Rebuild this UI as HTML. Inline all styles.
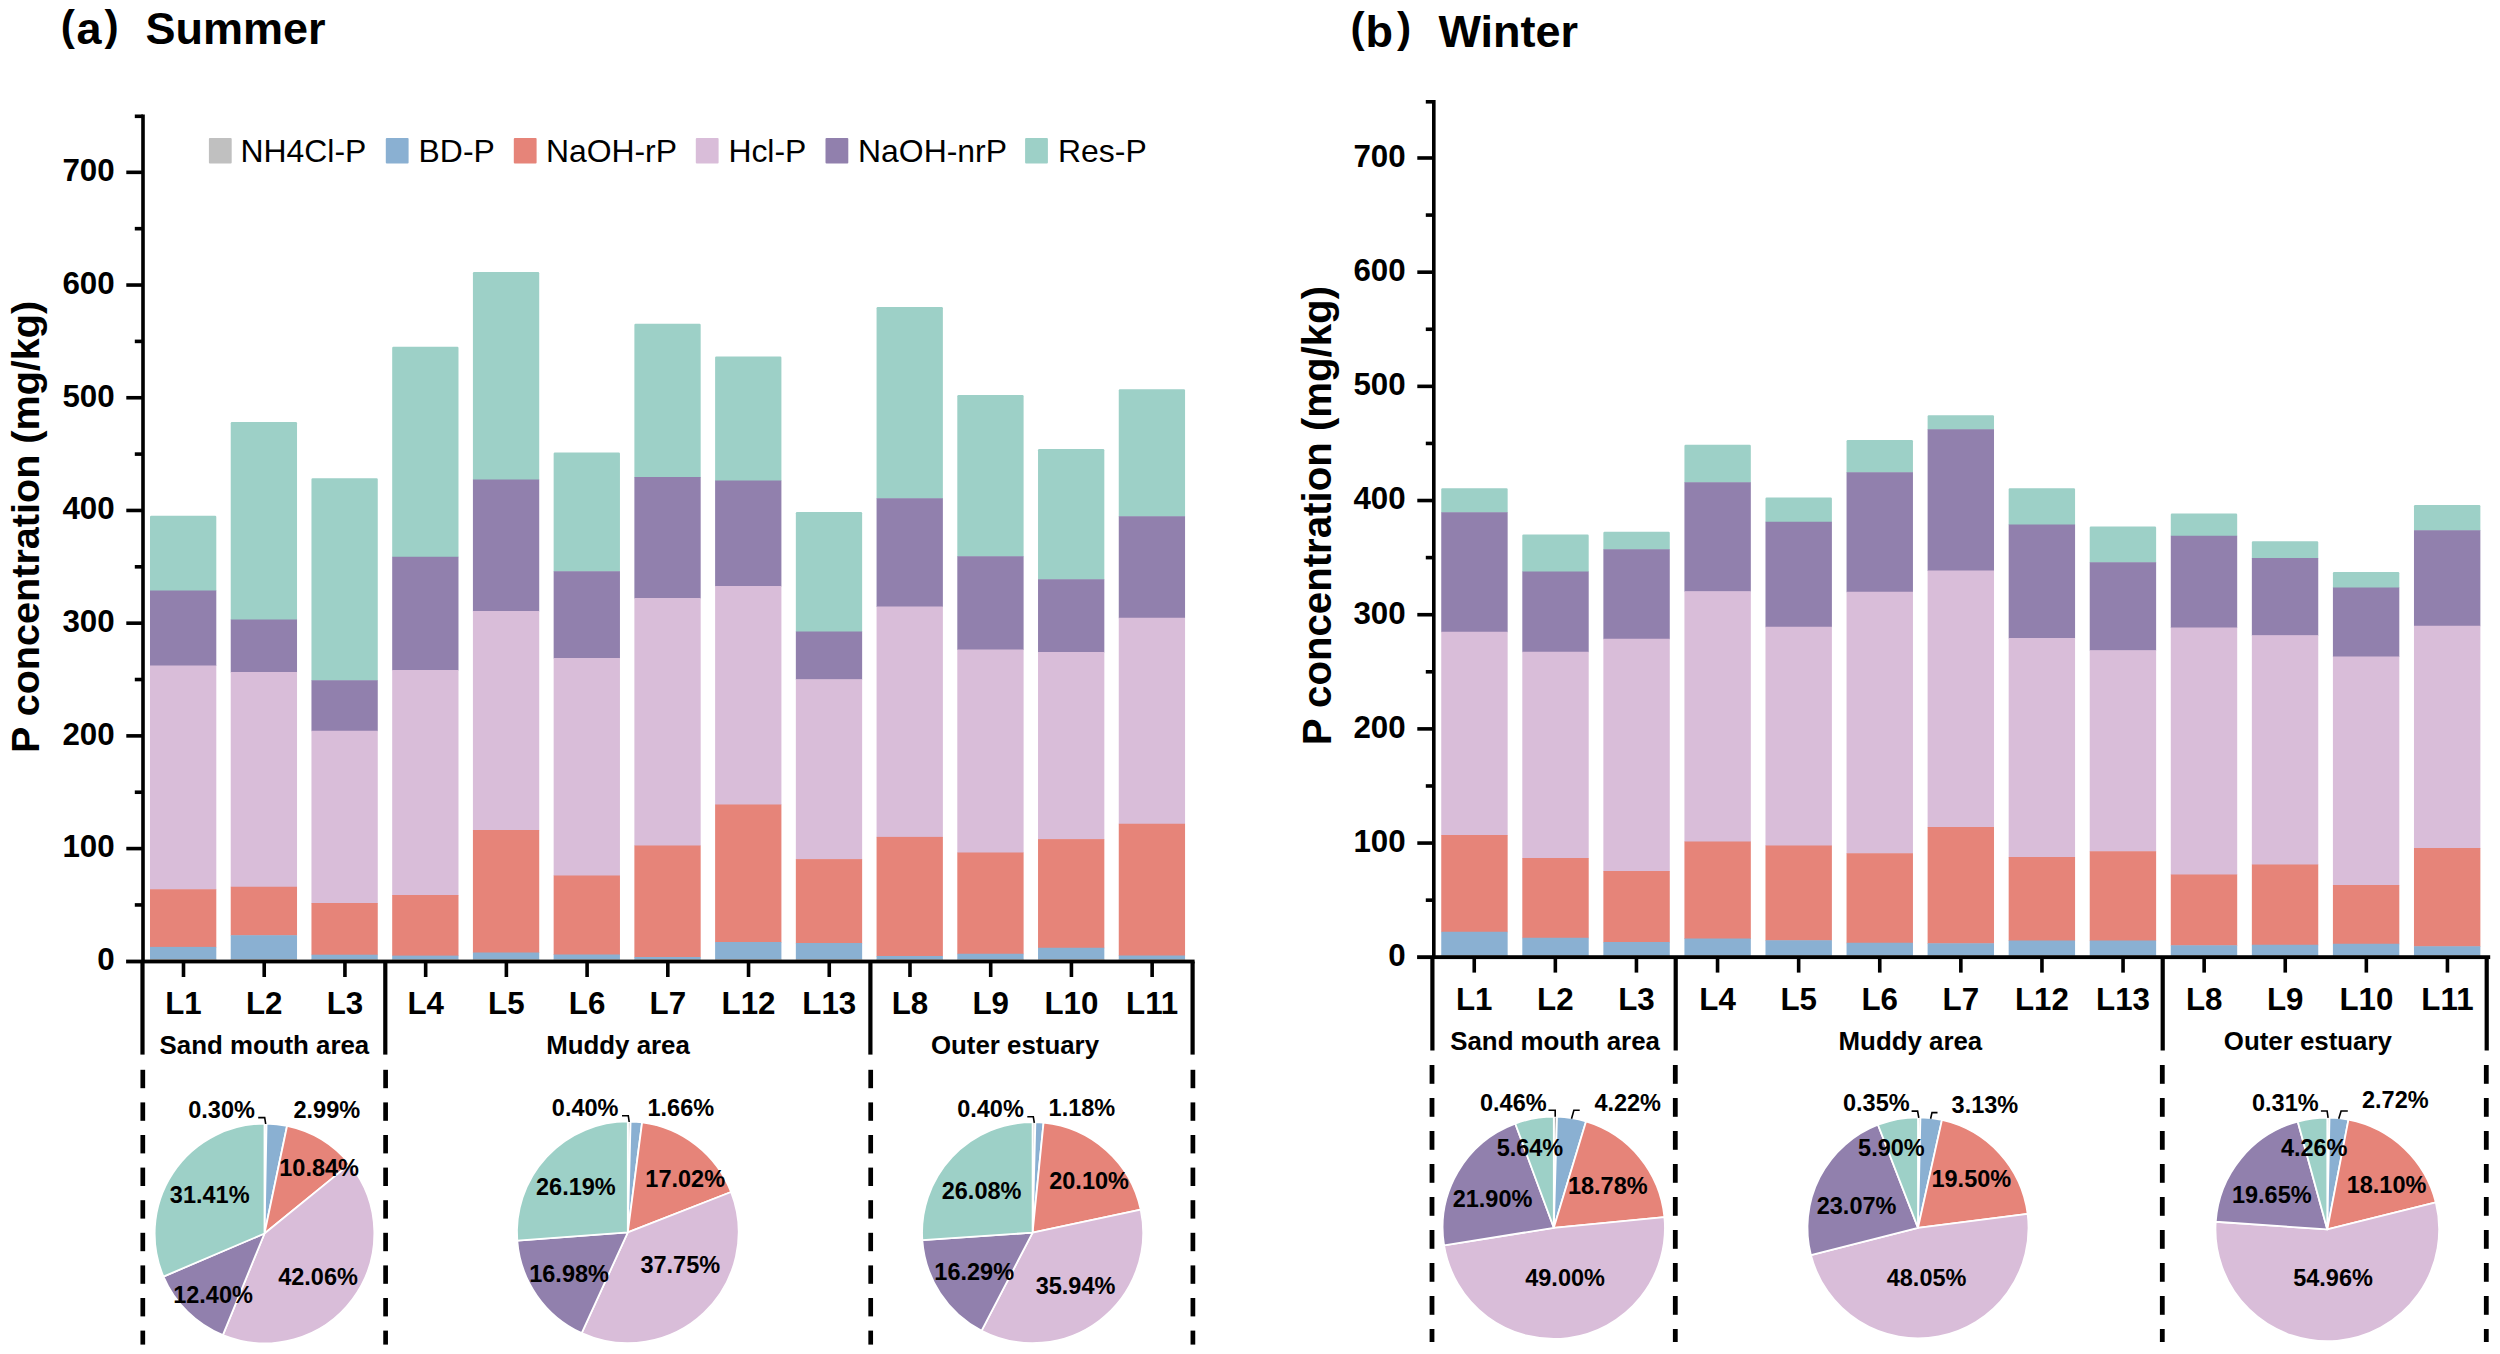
<!DOCTYPE html>
<html lang="en"><head><meta charset="utf-8"><title>P fractions in sediments: Summer and Winter</title>
<style>html,body{margin:0;padding:0;background:#fff}body{width:2500px;height:1354px;overflow:hidden}svg{display:block}text{font-family:'Liberation Sans', sans-serif;fill:#000}</style>
</head><body>
<svg width="2500" height="1354" viewBox="0 0 2500 1354">
<rect width="2500" height="1354" fill="#fff"/>
<g font-weight="700" font-size="45">
<text><tspan x="60.8" y="40" font-size="42.5">(</tspan><tspan x="76.6" y="44.4">a</tspan><tspan x="104.6" y="40" font-size="42.5">) </tspan><tspan x="145.4" y="44.4">Summer</tspan></text>
<text><tspan x="1350.4" y="42" font-size="42.5">(</tspan><tspan x="1365.6" y="47.4">b</tspan><tspan x="1396.9" y="42" font-size="42.5">) </tspan><tspan x="1438.4" y="47.4">Winter</tspan></text>
</g>
<g>
<path d="M150 591V516.95Q150 515.75 151.2 515.75H215.1Q216.3 515.75 216.3 516.95V591Z" fill="#9dd0c7"/>
<rect x="150" y="590.5" width="66.3" height="75.5" fill="#9180ad"/>
<rect x="150" y="665.5" width="66.3" height="224.25" fill="#d9bdd9"/>
<rect x="150" y="889.25" width="66.3" height="58.15" fill="#e68479"/>
<rect x="150" y="946.9" width="66.3" height="12.6" fill="#8ab0d2"/>
<rect x="150" y="959" width="66.3" height="2.1" fill="#c0c0c0"/>
<path d="M230.73 620V423.2Q230.73 422 231.93 422H295.83Q297.03 422 297.03 423.2V620Z" fill="#9dd0c7"/>
<rect x="230.73" y="619.5" width="66.3" height="53" fill="#9180ad"/>
<rect x="230.73" y="672" width="66.3" height="215.25" fill="#d9bdd9"/>
<rect x="230.73" y="886.75" width="66.3" height="48.95" fill="#e68479"/>
<rect x="230.73" y="935.2" width="66.3" height="24.3" fill="#8ab0d2"/>
<rect x="230.73" y="959" width="66.3" height="2.1" fill="#c0c0c0"/>
<path d="M311.46 680.75V479.45Q311.46 478.25 312.66 478.25H376.56Q377.76 478.25 377.76 479.45V680.75Z" fill="#9dd0c7"/>
<rect x="311.46" y="680.25" width="66.3" height="51" fill="#9180ad"/>
<rect x="311.46" y="730.75" width="66.3" height="172.75" fill="#d9bdd9"/>
<rect x="311.46" y="903" width="66.3" height="52.2" fill="#e68479"/>
<rect x="311.46" y="954.7" width="66.3" height="4.8" fill="#8ab0d2"/>
<rect x="311.46" y="959" width="66.3" height="2.1" fill="#c0c0c0"/>
<path d="M392.19 557.25V347.95Q392.19 346.75 393.39 346.75H457.29Q458.49 346.75 458.49 347.95V557.25Z" fill="#9dd0c7"/>
<rect x="392.19" y="556.75" width="66.3" height="113.75" fill="#9180ad"/>
<rect x="392.19" y="670" width="66.3" height="225.5" fill="#d9bdd9"/>
<rect x="392.19" y="895" width="66.3" height="61.1" fill="#e68479"/>
<rect x="392.19" y="955.6" width="66.3" height="3.9" fill="#8ab0d2"/>
<rect x="392.19" y="959" width="66.3" height="2.1" fill="#c0c0c0"/>
<path d="M472.92 480V273.2Q472.92 272 474.12 272H538.02Q539.22 272 539.22 273.2V480Z" fill="#9dd0c7"/>
<rect x="472.92" y="479.5" width="66.3" height="132" fill="#9180ad"/>
<rect x="472.92" y="611" width="66.3" height="219.5" fill="#d9bdd9"/>
<rect x="472.92" y="830" width="66.3" height="123" fill="#e68479"/>
<rect x="472.92" y="952.5" width="66.3" height="7" fill="#8ab0d2"/>
<rect x="472.92" y="959" width="66.3" height="2.1" fill="#c0c0c0"/>
<path d="M553.65 571.75V453.7Q553.65 452.5 554.85 452.5H618.75Q619.95 452.5 619.95 453.7V571.75Z" fill="#9dd0c7"/>
<rect x="553.65" y="571.25" width="66.3" height="87.25" fill="#9180ad"/>
<rect x="553.65" y="658" width="66.3" height="218" fill="#d9bdd9"/>
<rect x="553.65" y="875.5" width="66.3" height="79.5" fill="#e68479"/>
<rect x="553.65" y="954.5" width="66.3" height="5" fill="#8ab0d2"/>
<rect x="553.65" y="959" width="66.3" height="2.1" fill="#c0c0c0"/>
<path d="M634.38 477.5V324.95Q634.38 323.75 635.58 323.75H699.48Q700.68 323.75 700.68 324.95V477.5Z" fill="#9dd0c7"/>
<rect x="634.38" y="477" width="66.3" height="121.5" fill="#9180ad"/>
<rect x="634.38" y="598" width="66.3" height="248" fill="#d9bdd9"/>
<rect x="634.38" y="845.5" width="66.3" height="112" fill="#e68479"/>
<rect x="634.38" y="957" width="66.3" height="2.5" fill="#8ab0d2"/>
<rect x="634.38" y="959" width="66.3" height="2.1" fill="#c0c0c0"/>
<path d="M715.11 481V357.7Q715.11 356.5 716.31 356.5H780.21Q781.41 356.5 781.41 357.7V481Z" fill="#9dd0c7"/>
<rect x="715.11" y="480.5" width="66.3" height="106" fill="#9180ad"/>
<rect x="715.11" y="586" width="66.3" height="219" fill="#d9bdd9"/>
<rect x="715.11" y="804.5" width="66.3" height="138" fill="#e68479"/>
<rect x="715.11" y="942" width="66.3" height="17.5" fill="#8ab0d2"/>
<rect x="715.11" y="959" width="66.3" height="2.1" fill="#c0c0c0"/>
<path d="M795.84 632V513.2Q795.84 512 797.04 512H860.94Q862.14 512 862.14 513.2V632Z" fill="#9dd0c7"/>
<rect x="795.84" y="631.5" width="66.3" height="48.25" fill="#9180ad"/>
<rect x="795.84" y="679.25" width="66.3" height="180.35" fill="#d9bdd9"/>
<rect x="795.84" y="859.1" width="66.3" height="84.4" fill="#e68479"/>
<rect x="795.84" y="943" width="66.3" height="16.5" fill="#8ab0d2"/>
<rect x="795.84" y="959" width="66.3" height="2.1" fill="#c0c0c0"/>
<path d="M876.57 498.75V308.2Q876.57 307 877.77 307H941.67Q942.87 307 942.87 308.2V498.75Z" fill="#9dd0c7"/>
<rect x="876.57" y="498.25" width="66.3" height="108.75" fill="#9180ad"/>
<rect x="876.57" y="606.5" width="66.3" height="230.9" fill="#d9bdd9"/>
<rect x="876.57" y="836.9" width="66.3" height="119.6" fill="#e68479"/>
<rect x="876.57" y="956" width="66.3" height="3.5" fill="#8ab0d2"/>
<rect x="876.57" y="959" width="66.3" height="2.1" fill="#c0c0c0"/>
<path d="M957.3 556.75V396.2Q957.3 395 958.5 395H1022.4Q1023.6 395 1023.6 396.2V556.75Z" fill="#9dd0c7"/>
<rect x="957.3" y="556.25" width="66.3" height="93.75" fill="#9180ad"/>
<rect x="957.3" y="649.5" width="66.3" height="203.5" fill="#d9bdd9"/>
<rect x="957.3" y="852.5" width="66.3" height="101.75" fill="#e68479"/>
<rect x="957.3" y="953.75" width="66.3" height="5.75" fill="#8ab0d2"/>
<rect x="957.3" y="959" width="66.3" height="2.1" fill="#c0c0c0"/>
<path d="M1038.03 579.75V450.2Q1038.03 449 1039.23 449H1103.13Q1104.33 449 1104.33 450.2V579.75Z" fill="#9dd0c7"/>
<rect x="1038.03" y="579.25" width="66.3" height="73.25" fill="#9180ad"/>
<rect x="1038.03" y="652" width="66.3" height="187.6" fill="#d9bdd9"/>
<rect x="1038.03" y="839.1" width="66.3" height="109.15" fill="#e68479"/>
<rect x="1038.03" y="947.75" width="66.3" height="11.75" fill="#8ab0d2"/>
<rect x="1038.03" y="959" width="66.3" height="2.1" fill="#c0c0c0"/>
<path d="M1118.76 516.75V390.45Q1118.76 389.25 1119.96 389.25H1183.86Q1185.06 389.25 1185.06 390.45V516.75Z" fill="#9dd0c7"/>
<rect x="1118.76" y="516.25" width="66.3" height="102" fill="#9180ad"/>
<rect x="1118.76" y="617.75" width="66.3" height="206.5" fill="#d9bdd9"/>
<rect x="1118.76" y="823.75" width="66.3" height="132.25" fill="#e68479"/>
<rect x="1118.76" y="955.5" width="66.3" height="4" fill="#8ab0d2"/>
<rect x="1118.76" y="959" width="66.3" height="2.1" fill="#c0c0c0"/>
<g fill="#000">
<rect x="141.2" y="114.5" width="3.6" height="847"/>
<rect x="134.8" y="903.14" width="8.2" height="3.6"/>
<rect x="126.3" y="846.79" width="16.7" height="3.6"/>
<rect x="134.8" y="790.43" width="8.2" height="3.6"/>
<rect x="126.3" y="734.08" width="16.7" height="3.6"/>
<rect x="134.8" y="677.73" width="8.2" height="3.6"/>
<rect x="126.3" y="621.37" width="16.7" height="3.6"/>
<rect x="134.8" y="565.01" width="8.2" height="3.6"/>
<rect x="126.3" y="508.66" width="16.7" height="3.6"/>
<rect x="134.8" y="452.3" width="8.2" height="3.6"/>
<rect x="126.3" y="395.95" width="16.7" height="3.6"/>
<rect x="134.8" y="339.59" width="8.2" height="3.6"/>
<rect x="126.3" y="283.24" width="16.7" height="3.6"/>
<rect x="134.8" y="226.88" width="8.2" height="3.6"/>
<rect x="126.3" y="170.53" width="16.7" height="3.6"/>
<rect x="134.8" y="114.5" width="8.2" height="3.6"/>
<rect x="126.1" y="959.6" width="1068.5" height="3.8"/>
<rect x="181.7" y="961.5" width="3.6" height="15.5"/>
<rect x="262.42" y="961.5" width="3.6" height="15.5"/>
<rect x="343.14" y="961.5" width="3.6" height="15.5"/>
<rect x="423.86" y="961.5" width="3.6" height="15.5"/>
<rect x="504.58" y="961.5" width="3.6" height="15.5"/>
<rect x="585.3" y="961.5" width="3.6" height="15.5"/>
<rect x="666.02" y="961.5" width="3.6" height="15.5"/>
<rect x="746.74" y="961.5" width="3.6" height="15.5"/>
<rect x="827.46" y="961.5" width="3.6" height="15.5"/>
<rect x="908.18" y="961.5" width="3.6" height="15.5"/>
<rect x="988.9" y="961.5" width="3.6" height="15.5"/>
<rect x="1069.62" y="961.5" width="3.6" height="15.5"/>
<rect x="1150.34" y="961.5" width="3.6" height="15.5"/>
<rect x="140.4" y="961.5" width="4.2" height="93.1"/>
<rect x="140.45" y="1069.8" width="4.7" height="18.4"/>
<rect x="140.45" y="1102.4" width="4.7" height="18.4"/>
<rect x="140.45" y="1135" width="4.7" height="18.4"/>
<rect x="140.45" y="1167.6" width="4.7" height="18.4"/>
<rect x="140.45" y="1200.2" width="4.7" height="18.4"/>
<rect x="140.45" y="1232.8" width="4.7" height="18.4"/>
<rect x="140.45" y="1265.4" width="4.7" height="18.4"/>
<rect x="140.45" y="1298" width="4.7" height="18.4"/>
<rect x="140.45" y="1330.6" width="4.7" height="14"/>
<rect x="383.2" y="961.5" width="4.2" height="93.1"/>
<rect x="383.25" y="1069.8" width="4.7" height="18.4"/>
<rect x="383.25" y="1102.4" width="4.7" height="18.4"/>
<rect x="383.25" y="1135" width="4.7" height="18.4"/>
<rect x="383.25" y="1167.6" width="4.7" height="18.4"/>
<rect x="383.25" y="1200.2" width="4.7" height="18.4"/>
<rect x="383.25" y="1232.8" width="4.7" height="18.4"/>
<rect x="383.25" y="1265.4" width="4.7" height="18.4"/>
<rect x="383.25" y="1298" width="4.7" height="18.4"/>
<rect x="383.25" y="1330.6" width="4.7" height="14"/>
<rect x="868.3" y="961.5" width="4.2" height="93.1"/>
<rect x="868.35" y="1069.8" width="4.7" height="18.4"/>
<rect x="868.35" y="1102.4" width="4.7" height="18.4"/>
<rect x="868.35" y="1135" width="4.7" height="18.4"/>
<rect x="868.35" y="1167.6" width="4.7" height="18.4"/>
<rect x="868.35" y="1200.2" width="4.7" height="18.4"/>
<rect x="868.35" y="1232.8" width="4.7" height="18.4"/>
<rect x="868.35" y="1265.4" width="4.7" height="18.4"/>
<rect x="868.35" y="1298" width="4.7" height="18.4"/>
<rect x="868.35" y="1330.6" width="4.7" height="14"/>
<rect x="1190.5" y="961.5" width="4.2" height="93.1"/>
<rect x="1190.55" y="1069.8" width="4.7" height="18.4"/>
<rect x="1190.55" y="1102.4" width="4.7" height="18.4"/>
<rect x="1190.55" y="1135" width="4.7" height="18.4"/>
<rect x="1190.55" y="1167.6" width="4.7" height="18.4"/>
<rect x="1190.55" y="1200.2" width="4.7" height="18.4"/>
<rect x="1190.55" y="1232.8" width="4.7" height="18.4"/>
<rect x="1190.55" y="1265.4" width="4.7" height="18.4"/>
<rect x="1190.55" y="1298" width="4.7" height="18.4"/>
<rect x="1190.55" y="1330.6" width="4.7" height="14"/>
</g>
<g font-weight="700" font-size="31.3" text-anchor="end">
<text x="114.6" y="970.1">0</text>
<text x="114.6" y="857.39">100</text>
<text x="114.6" y="744.68">200</text>
<text x="114.6" y="631.97">300</text>
<text x="114.6" y="519.26">400</text>
<text x="114.6" y="406.55">500</text>
<text x="114.6" y="293.84">600</text>
<text x="114.6" y="181.13">700</text>
</g>
<g font-weight="700" font-size="31.3" text-anchor="middle">
<text x="183.5" y="1013.75">L1</text>
<text x="264.22" y="1013.75">L2</text>
<text x="344.94" y="1013.75">L3</text>
<text x="425.66" y="1013.75">L4</text>
<text x="506.38" y="1013.75">L5</text>
<text x="587.1" y="1013.75">L6</text>
<text x="667.82" y="1013.75">L7</text>
<text x="748.54" y="1013.75">L12</text>
<text x="829.26" y="1013.75">L13</text>
<text x="909.98" y="1013.75">L8</text>
<text x="990.7" y="1013.75">L9</text>
<text x="1071.42" y="1013.75">L10</text>
<text x="1152.14" y="1013.75">L11</text>
</g>
<g font-weight="700" font-size="25.85" text-anchor="middle">
<text x="264.4" y="1053.75">Sand mouth area</text>
<text x="618" y="1053.75">Muddy area</text>
<text x="1015" y="1053.75">Outer estuary</text>
</g>
<text font-weight="700" font-size="39.6" text-anchor="middle" transform="translate(39 526.9) rotate(-90)">P concentration (mg/kg)</text>
</g>
<g>
<path d="M1441.25 512.75V489.45Q1441.25 488.25 1442.45 488.25H1506.45Q1507.65 488.25 1507.65 489.45V512.75Z" fill="#9dd0c7"/>
<rect x="1441.25" y="512.25" width="66.4" height="120" fill="#9180ad"/>
<rect x="1441.25" y="631.75" width="66.4" height="203.75" fill="#d9bdd9"/>
<rect x="1441.25" y="835" width="66.4" height="97.25" fill="#e68479"/>
<rect x="1441.25" y="931.75" width="66.4" height="23.75" fill="#8ab0d2"/>
<rect x="1441.25" y="955" width="66.4" height="2.1" fill="#c0c0c0"/>
<path d="M1522.31 572V535.7Q1522.31 534.5 1523.51 534.5H1587.51Q1588.71 534.5 1588.71 535.7V572Z" fill="#9dd0c7"/>
<rect x="1522.31" y="571.5" width="66.4" height="80.75" fill="#9180ad"/>
<rect x="1522.31" y="651.75" width="66.4" height="206.75" fill="#d9bdd9"/>
<rect x="1522.31" y="858" width="66.4" height="80.25" fill="#e68479"/>
<rect x="1522.31" y="937.75" width="66.4" height="17.75" fill="#8ab0d2"/>
<rect x="1522.31" y="955" width="66.4" height="2.1" fill="#c0c0c0"/>
<path d="M1603.37 549.75V532.95Q1603.37 531.75 1604.57 531.75H1668.57Q1669.77 531.75 1669.77 532.95V549.75Z" fill="#9dd0c7"/>
<rect x="1603.37" y="549.25" width="66.4" height="90" fill="#9180ad"/>
<rect x="1603.37" y="638.75" width="66.4" height="232.75" fill="#d9bdd9"/>
<rect x="1603.37" y="871" width="66.4" height="71.5" fill="#e68479"/>
<rect x="1603.37" y="942" width="66.4" height="13.5" fill="#8ab0d2"/>
<rect x="1603.37" y="955" width="66.4" height="2.1" fill="#c0c0c0"/>
<path d="M1684.43 482.75V445.95Q1684.43 444.75 1685.63 444.75H1749.63Q1750.83 444.75 1750.83 445.95V482.75Z" fill="#9dd0c7"/>
<rect x="1684.43" y="482.25" width="66.4" height="109.5" fill="#9180ad"/>
<rect x="1684.43" y="591.25" width="66.4" height="250.75" fill="#d9bdd9"/>
<rect x="1684.43" y="841.5" width="66.4" height="97.5" fill="#e68479"/>
<rect x="1684.43" y="938.5" width="66.4" height="17" fill="#8ab0d2"/>
<rect x="1684.43" y="955" width="66.4" height="2.1" fill="#c0c0c0"/>
<path d="M1765.49 522.25V498.7Q1765.49 497.5 1766.69 497.5H1830.69Q1831.89 497.5 1831.89 498.7V522.25Z" fill="#9dd0c7"/>
<rect x="1765.49" y="521.75" width="66.4" height="105.5" fill="#9180ad"/>
<rect x="1765.49" y="626.75" width="66.4" height="219.25" fill="#d9bdd9"/>
<rect x="1765.49" y="845.5" width="66.4" height="95.25" fill="#e68479"/>
<rect x="1765.49" y="940.25" width="66.4" height="15.25" fill="#8ab0d2"/>
<rect x="1765.49" y="955" width="66.4" height="2.1" fill="#c0c0c0"/>
<path d="M1846.55 472.75V441.2Q1846.55 440 1847.75 440H1911.75Q1912.95 440 1912.95 441.2V472.75Z" fill="#9dd0c7"/>
<rect x="1846.55" y="472.25" width="66.4" height="120" fill="#9180ad"/>
<rect x="1846.55" y="591.75" width="66.4" height="262" fill="#d9bdd9"/>
<rect x="1846.55" y="853.25" width="66.4" height="90" fill="#e68479"/>
<rect x="1846.55" y="942.75" width="66.4" height="12.75" fill="#8ab0d2"/>
<rect x="1846.55" y="955" width="66.4" height="2.1" fill="#c0c0c0"/>
<path d="M1927.61 429.75V416.45Q1927.61 415.25 1928.81 415.25H1992.81Q1994.01 415.25 1994.01 416.45V429.75Z" fill="#9dd0c7"/>
<rect x="1927.61" y="429.25" width="66.4" height="141.75" fill="#9180ad"/>
<rect x="1927.61" y="570.5" width="66.4" height="257" fill="#d9bdd9"/>
<rect x="1927.61" y="827" width="66.4" height="116.75" fill="#e68479"/>
<rect x="1927.61" y="943.25" width="66.4" height="12.25" fill="#8ab0d2"/>
<rect x="1927.61" y="955" width="66.4" height="2.1" fill="#c0c0c0"/>
<path d="M2008.67 525V489.45Q2008.67 488.25 2009.87 488.25H2073.87Q2075.07 488.25 2075.07 489.45V525Z" fill="#9dd0c7"/>
<rect x="2008.67" y="524.5" width="66.4" height="114" fill="#9180ad"/>
<rect x="2008.67" y="638" width="66.4" height="219.5" fill="#d9bdd9"/>
<rect x="2008.67" y="857" width="66.4" height="84" fill="#e68479"/>
<rect x="2008.67" y="940.5" width="66.4" height="15" fill="#8ab0d2"/>
<rect x="2008.67" y="955" width="66.4" height="2.1" fill="#c0c0c0"/>
<path d="M2089.73 562.75V527.7Q2089.73 526.5 2090.93 526.5H2154.93Q2156.13 526.5 2156.13 527.7V562.75Z" fill="#9dd0c7"/>
<rect x="2089.73" y="562.25" width="66.4" height="88.5" fill="#9180ad"/>
<rect x="2089.73" y="650.25" width="66.4" height="201.5" fill="#d9bdd9"/>
<rect x="2089.73" y="851.25" width="66.4" height="89.75" fill="#e68479"/>
<rect x="2089.73" y="940.5" width="66.4" height="15" fill="#8ab0d2"/>
<rect x="2089.73" y="955" width="66.4" height="2.1" fill="#c0c0c0"/>
<path d="M2170.79 536.25V514.7Q2170.79 513.5 2171.99 513.5H2235.99Q2237.19 513.5 2237.19 514.7V536.25Z" fill="#9dd0c7"/>
<rect x="2170.79" y="535.75" width="66.4" height="92.25" fill="#9180ad"/>
<rect x="2170.79" y="627.5" width="66.4" height="247.5" fill="#d9bdd9"/>
<rect x="2170.79" y="874.5" width="66.4" height="71.25" fill="#e68479"/>
<rect x="2170.79" y="945.25" width="66.4" height="10.25" fill="#8ab0d2"/>
<rect x="2170.79" y="955" width="66.4" height="2.1" fill="#c0c0c0"/>
<path d="M2251.85 558.5V542.45Q2251.85 541.25 2253.05 541.25H2317.05Q2318.25 541.25 2318.25 542.45V558.5Z" fill="#9dd0c7"/>
<rect x="2251.85" y="558" width="66.4" height="77.75" fill="#9180ad"/>
<rect x="2251.85" y="635.25" width="66.4" height="229.75" fill="#d9bdd9"/>
<rect x="2251.85" y="864.5" width="66.4" height="80.75" fill="#e68479"/>
<rect x="2251.85" y="944.75" width="66.4" height="10.75" fill="#8ab0d2"/>
<rect x="2251.85" y="955" width="66.4" height="2.1" fill="#c0c0c0"/>
<path d="M2332.91 588V573.2Q2332.91 572 2334.11 572H2398.11Q2399.31 572 2399.31 573.2V588Z" fill="#9dd0c7"/>
<rect x="2332.91" y="587.5" width="66.4" height="69.5" fill="#9180ad"/>
<rect x="2332.91" y="656.5" width="66.4" height="229" fill="#d9bdd9"/>
<rect x="2332.91" y="885" width="66.4" height="59.25" fill="#e68479"/>
<rect x="2332.91" y="943.75" width="66.4" height="11.75" fill="#8ab0d2"/>
<rect x="2332.91" y="955" width="66.4" height="2.1" fill="#c0c0c0"/>
<path d="M2413.97 530.75V506.2Q2413.97 505 2415.17 505H2479.17Q2480.37 505 2480.37 506.2V530.75Z" fill="#9dd0c7"/>
<rect x="2413.97" y="530.25" width="66.4" height="96" fill="#9180ad"/>
<rect x="2413.97" y="625.75" width="66.4" height="222.75" fill="#d9bdd9"/>
<rect x="2413.97" y="848" width="66.4" height="98.75" fill="#e68479"/>
<rect x="2413.97" y="946.25" width="66.4" height="9.25" fill="#8ab0d2"/>
<rect x="2413.97" y="955" width="66.4" height="2.1" fill="#c0c0c0"/>
<g fill="#000">
<rect x="1432" y="100" width="3.6" height="857.15"/>
<rect x="1425.8" y="898.36" width="8" height="3.6"/>
<rect x="1417.3" y="841.27" width="16.5" height="3.6"/>
<rect x="1425.8" y="784.18" width="8" height="3.6"/>
<rect x="1417.3" y="727.09" width="16.5" height="3.6"/>
<rect x="1425.8" y="670" width="8" height="3.6"/>
<rect x="1417.3" y="612.91" width="16.5" height="3.6"/>
<rect x="1425.8" y="555.82" width="8" height="3.6"/>
<rect x="1417.3" y="498.73" width="16.5" height="3.6"/>
<rect x="1425.8" y="441.64" width="8" height="3.6"/>
<rect x="1417.3" y="384.55" width="16.5" height="3.6"/>
<rect x="1425.8" y="327.46" width="8" height="3.6"/>
<rect x="1417.3" y="270.37" width="16.5" height="3.6"/>
<rect x="1425.8" y="213.28" width="8" height="3.6"/>
<rect x="1417.3" y="156.19" width="16.5" height="3.6"/>
<rect x="1425.8" y="100" width="8" height="3.6"/>
<rect x="1417.1" y="955.23" width="1073.1" height="3.85"/>
<rect x="1472.45" y="957.15" width="3.6" height="15.45"/>
<rect x="1553.55" y="957.15" width="3.6" height="15.45"/>
<rect x="1634.65" y="957.15" width="3.6" height="15.45"/>
<rect x="1715.75" y="957.15" width="3.6" height="15.45"/>
<rect x="1796.85" y="957.15" width="3.6" height="15.45"/>
<rect x="1877.95" y="957.15" width="3.6" height="15.45"/>
<rect x="1959.05" y="957.15" width="3.6" height="15.45"/>
<rect x="2040.15" y="957.15" width="3.6" height="15.45"/>
<rect x="2121.25" y="957.15" width="3.6" height="15.45"/>
<rect x="2202.35" y="957.15" width="3.6" height="15.45"/>
<rect x="2283.45" y="957.15" width="3.6" height="15.45"/>
<rect x="2364.55" y="957.15" width="3.6" height="15.45"/>
<rect x="2445.65" y="957.15" width="3.6" height="15.45"/>
<rect x="1430.3" y="957.15" width="4.2" height="93.35"/>
<rect x="1429.6" y="1065" width="4.8" height="18.8"/>
<rect x="1429.6" y="1098" width="4.8" height="18.8"/>
<rect x="1429.6" y="1131" width="4.8" height="18.8"/>
<rect x="1429.6" y="1164" width="4.8" height="18.8"/>
<rect x="1429.6" y="1197" width="4.8" height="18.8"/>
<rect x="1429.6" y="1230" width="4.8" height="18.8"/>
<rect x="1429.6" y="1263" width="4.8" height="18.8"/>
<rect x="1429.6" y="1296" width="4.8" height="18.8"/>
<rect x="1429.6" y="1329" width="4.8" height="13"/>
<rect x="1673.6" y="957.15" width="4.2" height="93.35"/>
<rect x="1672.9" y="1065" width="4.8" height="18.8"/>
<rect x="1672.9" y="1098" width="4.8" height="18.8"/>
<rect x="1672.9" y="1131" width="4.8" height="18.8"/>
<rect x="1672.9" y="1164" width="4.8" height="18.8"/>
<rect x="1672.9" y="1197" width="4.8" height="18.8"/>
<rect x="1672.9" y="1230" width="4.8" height="18.8"/>
<rect x="1672.9" y="1263" width="4.8" height="18.8"/>
<rect x="1672.9" y="1296" width="4.8" height="18.8"/>
<rect x="1672.9" y="1329" width="4.8" height="13"/>
<rect x="2160.6" y="957.15" width="4.2" height="93.35"/>
<rect x="2159.9" y="1065" width="4.8" height="18.8"/>
<rect x="2159.9" y="1098" width="4.8" height="18.8"/>
<rect x="2159.9" y="1131" width="4.8" height="18.8"/>
<rect x="2159.9" y="1164" width="4.8" height="18.8"/>
<rect x="2159.9" y="1197" width="4.8" height="18.8"/>
<rect x="2159.9" y="1230" width="4.8" height="18.8"/>
<rect x="2159.9" y="1263" width="4.8" height="18.8"/>
<rect x="2159.9" y="1296" width="4.8" height="18.8"/>
<rect x="2159.9" y="1329" width="4.8" height="13"/>
<rect x="2484.6" y="957.15" width="4.2" height="93.35"/>
<rect x="2483.9" y="1065" width="4.8" height="18.8"/>
<rect x="2483.9" y="1098" width="4.8" height="18.8"/>
<rect x="2483.9" y="1131" width="4.8" height="18.8"/>
<rect x="2483.9" y="1164" width="4.8" height="18.8"/>
<rect x="2483.9" y="1197" width="4.8" height="18.8"/>
<rect x="2483.9" y="1230" width="4.8" height="18.8"/>
<rect x="2483.9" y="1263" width="4.8" height="18.8"/>
<rect x="2483.9" y="1296" width="4.8" height="18.8"/>
<rect x="2483.9" y="1329" width="4.8" height="13"/>
</g>
<g font-weight="700" font-size="31.3" text-anchor="end">
<text x="1405.6" y="966.05">0</text>
<text x="1405.6" y="851.87">100</text>
<text x="1405.6" y="737.69">200</text>
<text x="1405.6" y="623.51">300</text>
<text x="1405.6" y="509.33">400</text>
<text x="1405.6" y="395.15">500</text>
<text x="1405.6" y="280.97">600</text>
<text x="1405.6" y="166.79">700</text>
</g>
<g font-weight="700" font-size="31.3" text-anchor="middle">
<text x="1474.25" y="1010">L1</text>
<text x="1555.35" y="1010">L2</text>
<text x="1636.45" y="1010">L3</text>
<text x="1717.55" y="1010">L4</text>
<text x="1798.65" y="1010">L5</text>
<text x="1879.75" y="1010">L6</text>
<text x="1960.85" y="1010">L7</text>
<text x="2041.95" y="1010">L12</text>
<text x="2123.05" y="1010">L13</text>
<text x="2204.15" y="1010">L8</text>
<text x="2285.25" y="1010">L9</text>
<text x="2366.35" y="1010">L10</text>
<text x="2447.45" y="1010">L11</text>
</g>
<g font-weight="700" font-size="25.85" text-anchor="middle">
<text x="1555.1" y="1049.5">Sand mouth area</text>
<text x="1910.4" y="1049.5">Muddy area</text>
<text x="2307.9" y="1049.5">Outer estuary</text>
</g>
<text font-weight="700" font-size="40.2" text-anchor="middle" transform="translate(1330.6 515.6) rotate(-90)">P concentration (mg/kg)</text>
</g>
<g>
<rect x="208.9" y="138" width="22.8" height="25.4" rx="1" fill="#c0c0c0"/>
<rect x="385.8" y="138" width="22.8" height="25.4" rx="1" fill="#8ab0d2"/>
<rect x="513.8" y="138" width="22.8" height="25.4" rx="1" fill="#e68479"/>
<rect x="695.8" y="138" width="22.8" height="25.4" rx="1" fill="#d9bdd9"/>
<rect x="825.5" y="138" width="22.8" height="25.4" rx="1" fill="#9180ad"/>
<rect x="1025.1" y="138" width="22.8" height="25.4" rx="1" fill="#9dd0c7"/>
<g font-size="31.9">
<text x="240.5" y="161.6">NH4Cl-P</text>
<text x="418.6" y="161.6">BD-P</text>
<text x="545.9" y="161.6">NaOH-rP</text>
<text x="728.4" y="161.6">Hcl-P</text>
<text x="858.1" y="161.6">NaOH-nrP</text>
<text x="1058.1" y="161.6">Res-P</text>
</g></g>
<g>
<g stroke="#fff" stroke-width="1.8" stroke-linejoin="round">
<path d="M264.5 1233.5L264.5 1123.65A109.85 109.85 0 0 1 266.57 1123.67Z" fill="#b0b0b0"/>
<path d="M264.5 1233.5L266.57 1123.67A109.85 109.85 0 0 1 287.05 1125.99Z" fill="#8ab0d2"/>
<path d="M264.5 1233.5L287.05 1125.99A109.85 109.85 0 0 1 349.71 1164.17Z" fill="#e68479"/>
<path d="M264.5 1233.5L349.71 1164.17A109.85 109.85 0 0 1 222.85 1335.15Z" fill="#d9bdd9"/>
<path d="M264.5 1233.5L222.85 1335.15A109.85 109.85 0 0 1 163.44 1276.56Z" fill="#9180ad"/>
<path d="M264.5 1233.5L163.44 1276.56A109.85 109.85 0 0 1 264.5 1123.65Z" fill="#9dd0c7"/>
</g>
<polyline points="258.2,1117.6 264.7,1117.6 265.7,1124" fill="none" stroke="#000" stroke-width="1.6"/>
<g font-weight="700" font-size="23.5" text-anchor="middle">
<text x="221.55" y="1117.8">0.30%</text>
<text x="326.8" y="1117.8">2.99%</text>
<text x="319.15" y="1175.9">10.84%</text>
<text x="209.7" y="1202.9">31.41%</text>
<text x="318.05" y="1284.5">42.06%</text>
<text x="213" y="1303.3">12.40%</text>
</g>
</g>
<g>
<g stroke="#fff" stroke-width="1.8" stroke-linejoin="round">
<path d="M627.8 1232.3L627.8 1121.45A110.85 110.85 0 0 1 630.59 1121.49Z" fill="#b0b0b0"/>
<path d="M627.8 1232.3L630.59 1121.49A110.85 110.85 0 0 1 642.11 1122.38Z" fill="#8ab0d2"/>
<path d="M627.8 1232.3L642.11 1122.38A110.85 110.85 0 0 1 731.07 1192.01Z" fill="#e68479"/>
<path d="M627.8 1232.3L731.07 1192.01A110.85 110.85 0 0 1 581.68 1333.1Z" fill="#d9bdd9"/>
<path d="M627.8 1232.3L581.68 1333.1A110.85 110.85 0 0 1 517.26 1240.58Z" fill="#9180ad"/>
<path d="M627.8 1232.3L517.26 1240.58A110.85 110.85 0 0 1 627.8 1121.45Z" fill="#9dd0c7"/>
</g>
<polyline points="622,1115.8 628.3,1115.8 629.2,1122" fill="none" stroke="#000" stroke-width="1.6"/>
<g font-weight="700" font-size="23.5" text-anchor="middle">
<text x="585.15" y="1115.8">0.40%</text>
<text x="680.8" y="1115.5">1.66%</text>
<text x="685.2" y="1186.5">17.02%</text>
<text x="575.9" y="1195.4">26.19%</text>
<text x="680.25" y="1273.4">37.75%</text>
<text x="569.1" y="1282.3">16.98%</text>
</g>
</g>
<g>
<g stroke="#fff" stroke-width="1.8" stroke-linejoin="round">
<path d="M1032.6 1232.6L1032.6 1122.05A110.55 110.55 0 0 1 1035.38 1122.08Z" fill="#b0b0b0"/>
<path d="M1032.6 1232.6L1035.38 1122.08A110.55 110.55 0 0 1 1043.56 1122.59Z" fill="#8ab0d2"/>
<path d="M1032.6 1232.6L1043.56 1122.59A110.55 110.55 0 0 1 1140.76 1209.72Z" fill="#e68479"/>
<path d="M1032.6 1232.6L1140.76 1209.72A110.55 110.55 0 0 1 981.63 1330.7Z" fill="#d9bdd9"/>
<path d="M1032.6 1232.6L981.63 1330.7A110.55 110.55 0 0 1 922.31 1240.11Z" fill="#9180ad"/>
<path d="M1032.6 1232.6L922.31 1240.11A110.55 110.55 0 0 1 1032.6 1122.05Z" fill="#9dd0c7"/>
</g>
<polyline points="1027.3,1116.7 1033.3,1116.7 1034.3,1122.9" fill="none" stroke="#000" stroke-width="1.6"/>
<g font-weight="700" font-size="23.5" text-anchor="middle">
<text x="990.5" y="1116.6">0.40%</text>
<text x="1081.9" y="1116.4">1.18%</text>
<text x="1089.1" y="1189.2">20.10%</text>
<text x="981.6" y="1199.2">26.08%</text>
<text x="1075.5" y="1294.4">35.94%</text>
<text x="974.2" y="1280">16.29%</text>
</g>
</g>
<g>
<g stroke="#fff" stroke-width="1.8" stroke-linejoin="round">
<path d="M1553.8 1227.8L1553.8 1116.65A111.15 111.15 0 0 1 1557.01 1116.7Z" fill="#b0b0b0"/>
<path d="M1553.8 1227.8L1557.01 1116.7A111.15 111.15 0 0 1 1586.02 1121.42Z" fill="#8ab0d2"/>
<path d="M1553.8 1227.8L1586.02 1121.42A111.15 111.15 0 0 1 1664.43 1217.06Z" fill="#e68479"/>
<path d="M1553.8 1227.8L1664.43 1217.06A111.15 111.15 0 0 1 1444.06 1245.46Z" fill="#d9bdd9"/>
<path d="M1553.8 1227.8L1444.06 1245.46A111.15 111.15 0 0 1 1515.23 1123.56Z" fill="#9180ad"/>
<path d="M1553.8 1227.8L1515.23 1123.56A111.15 111.15 0 0 1 1553.8 1116.65Z" fill="#9dd0c7"/>
</g>
<polyline points="1548.5,1110.2 1555.2,1110.2 1555.2,1116.8" fill="none" stroke="#000" stroke-width="1.6"/>
<polyline points="1579.7,1110.2 1573.9,1110.2 1571.5,1118.8" fill="none" stroke="#000" stroke-width="1.6"/>
<g font-weight="700" font-size="23.5" text-anchor="middle">
<text x="1513.35" y="1110.7">0.46%</text>
<text x="1627.7" y="1111.2">4.22%</text>
<text x="1529.95" y="1155.5">5.64%</text>
<text x="1607.75" y="1194">18.78%</text>
<text x="1492.55" y="1206.9">21.90%</text>
<text x="1565.1" y="1285.6">49.00%</text>
</g>
</g>
<g>
<g stroke="#fff" stroke-width="1.8" stroke-linejoin="round">
<path d="M1918 1227.8L1918 1117.25A110.55 110.55 0 0 1 1920.43 1117.28Z" fill="#b0b0b0"/>
<path d="M1918 1227.8L1920.43 1117.28A110.55 110.55 0 0 1 1941.98 1119.88Z" fill="#8ab0d2"/>
<path d="M1918 1227.8L1941.98 1119.88A110.55 110.55 0 0 1 2027.66 1213.81Z" fill="#e68479"/>
<path d="M1918 1227.8L2027.66 1213.81A110.55 110.55 0 0 1 1810.87 1255.09Z" fill="#d9bdd9"/>
<path d="M1918 1227.8L1810.87 1255.09A110.55 110.55 0 0 1 1877.95 1124.76Z" fill="#9180ad"/>
<path d="M1918 1227.8L1877.95 1124.76A110.55 110.55 0 0 1 1918 1117.25Z" fill="#9dd0c7"/>
</g>
<polyline points="1911.6,1111.1 1917.6,1111.1 1918.8,1117.9" fill="none" stroke="#000" stroke-width="1.6"/>
<polyline points="1937.5,1112.6 1932,1112.6 1930.6,1118.8" fill="none" stroke="#000" stroke-width="1.6"/>
<g font-weight="700" font-size="23.5" text-anchor="middle">
<text x="1876.3" y="1111.2">0.35%</text>
<text x="1984.9" y="1112.7">3.13%</text>
<text x="1891.4" y="1155.9">5.90%</text>
<text x="1971.35" y="1187">19.50%</text>
<text x="1856.6" y="1214">23.07%</text>
<text x="1926.6" y="1285.6">48.05%</text>
</g>
</g>
<g>
<g stroke="#fff" stroke-width="1.8" stroke-linejoin="round">
<path d="M2327.3 1229.4L2327.3 1117.55A111.85 111.85 0 0 1 2329.48 1117.57Z" fill="#b0b0b0"/>
<path d="M2327.3 1229.4L2329.48 1117.57A111.85 111.85 0 0 1 2348.47 1119.57Z" fill="#8ab0d2"/>
<path d="M2327.3 1229.4L2348.47 1119.57A111.85 111.85 0 0 1 2435.86 1202.47Z" fill="#e68479"/>
<path d="M2327.3 1229.4L2435.86 1202.47A111.85 111.85 0 1 1 2215.71 1221.75Z" fill="#d9bdd9"/>
<path d="M2327.3 1229.4L2215.71 1221.75A111.85 111.85 0 0 1 2297.72 1121.53Z" fill="#9180ad"/>
<path d="M2327.3 1229.4L2297.72 1121.53A111.85 111.85 0 0 1 2327.3 1117.55Z" fill="#9dd0c7"/>
</g>
<polyline points="2320.9,1111 2327.1,1111 2328.1,1117.9" fill="none" stroke="#000" stroke-width="1.6"/>
<polyline points="2347.8,1111 2341.1,1111 2338.7,1118.7" fill="none" stroke="#000" stroke-width="1.6"/>
<g font-weight="700" font-size="23.5" text-anchor="middle">
<text x="2285.35" y="1111">0.31%</text>
<text x="2395.3" y="1108.3">2.72%</text>
<text x="2314.2" y="1156.4">4.26%</text>
<text x="2386.55" y="1192.5">18.10%</text>
<text x="2271.75" y="1202.5">19.65%</text>
<text x="2333" y="1285.6">54.96%</text>
</g>
</g>
</svg>
</body></html>
